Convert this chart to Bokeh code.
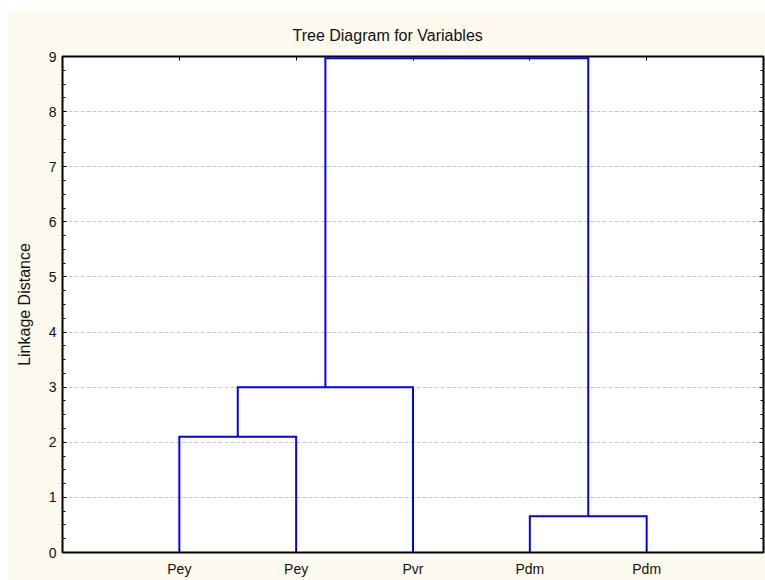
from bokeh.plotting import figure
from bokeh.models import (LinearAxis, FixedTicker, SingleIntervalTicker, Range1d,
                          ColumnDataSource, CustomJSTickFormatter)
from bokeh.embed import file_html
from bokeh.resources import INLINE

# ---- data ----
leaf_labels = ["Pey", "Pey", "Pvr", "Pdm", "Pdm"]
leaf_positions = [1, 2, 3, 4, 5]
# merges: node ids 0..4 are leaves, merge i creates node 5+i
merge_left = [0, 3, 5, 7]
merge_right = [1, 4, 2, 6]
merge_height = [2.1, 0.66, 3.0, 8.97]
y_tick_values = list(range(0, 10))
title_text = "Tree Diagram for  Variables"
y_label = "Linkage Distance"

# ---- build dendrogram paths from data ----
node_x = list(leaf_positions)
node_h = [0.0] * len(leaf_positions)
xs, ys = [], []
for l, r, h in zip(merge_left, merge_right, merge_height):
    xs.append([node_x[l], node_x[l], node_x[r], node_x[r]])
    ys.append([node_h[l], h, h, node_h[r]])
    node_x.append((node_x[l] + node_x[r]) / 2.0)
    node_h.append(h)

FONT = "Liberation Sans"
BG = "#FEFAF0"

p = figure(width=759, height=569, output_backend="svg", toolbar_location=None,
           x_range=Range1d(0, 6), y_range=Range1d(0, 9),
           x_axis_location=None, y_axis_location=None,
           min_border_left=56, min_border_right=2, min_border_top=45, min_border_bottom=28)
p.margin = (11, 0, 0, 6)
p.background_fill_color = "white"
p.border_fill_color = BG
p.outline_line_color = "black"
p.outline_line_width = 2

p.title.text = title_text
p.title.text_font = FONT
p.title.text_font_size = "16px"
p.title.text_font_style = "normal"
p.title.text_color = "#111111"
p.title.align = "left"
p.title.offset = 230
p.title.standoff = 26

blank = CustomJSTickFormatter(code="return '';")

def style_axis(ax, labels=True):
    ax.axis_line_color = None
    ax.major_tick_in = 4
    ax.major_tick_out = 0
    ax.minor_tick_in = 3
    ax.minor_tick_out = 0
    ax.major_tick_line_color = "black"
    ax.minor_tick_line_color = "black"
    ax.major_label_text_font = FONT
    ax.major_label_text_font_size = "14px"
    ax.major_label_text_color = "#111111"
    if not labels:
        ax.formatter = blank
        ax.major_label_standoff = 0

# left axis
yl = LinearAxis(ticker=SingleIntervalTicker(interval=1, num_minor_ticks=4))
style_axis(yl)
yl.major_label_standoff = 6
yl.axis_label = y_label
yl.axis_label_text_font = FONT
yl.axis_label_text_font_size = "16px"
yl.axis_label_text_font_style = "normal"
yl.axis_label_text_color = "#111111"
yl.axis_label_standoff = 13
p.add_layout(yl, "left")

# right axis
yr = LinearAxis(ticker=SingleIntervalTicker(interval=1, num_minor_ticks=4))
style_axis(yr, labels=False)
p.add_layout(yr, "right")

# bottom axis
xb = LinearAxis(ticker=FixedTicker(ticks=leaf_positions, minor_ticks=[]))
style_axis(xb)
xb.major_label_standoff = 8
xb.major_label_overrides = {pos: lab for pos, lab in zip(leaf_positions, leaf_labels)}
p.add_layout(xb, "below")

# top axis
xt = LinearAxis(ticker=FixedTicker(ticks=leaf_positions, minor_ticks=[]))
style_axis(xt, labels=False)
p.add_layout(xt, "above")

p.xgrid.visible = False
p.ygrid.ticker = yl.ticker
p.ygrid.grid_line_color = "#C8C8C8"
p.ygrid.grid_line_dash = "4 2"
p.ygrid.grid_line_width = 1

src = ColumnDataSource(dict(xs=xs, ys=ys))
p.multi_line("xs", "ys", source=src, line_color="#0000FF", line_width=2, line_join="miter")

open("out.html", "w").write(file_html(p, INLINE))
